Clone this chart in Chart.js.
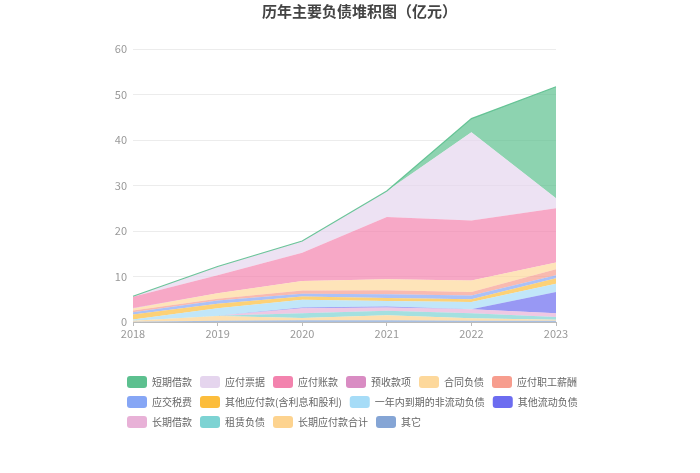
<!DOCTYPE html>
<html>
<head>
<meta charset="utf-8">
<title>历年主要负债堆积图</title>
<script src="https://cdn.jsdelivr.net/npm/chart.js@4.4.1/dist/chart.umd.min.js"></script>
<style>
  html, body { margin:0; padding:0; background:#fff; }
  #wrap { width:700px; height:473px; position:relative; }
</style>
</head>
<body>
<div id="wrap"><canvas id="debtChart"></canvas></div>
<script>
/* ── DATA (亿元) ── */
var years = ['2018','2019','2020','2021','2022','2023'];
var yTicks = [0, 10, 20, 30, 40, 50, 60];

var shortLoan    = [0,    0,   0,   0,    3.0,  24.5]; // 短期借款
var notesPay     = [0.1,  1.9, 2.6, 5.7,  19.4, 2.2];  // 应付票据
var accountsPay  = [2.5,  4.0, 6.2, 13.7, 13.2, 11.9]; // 应付账款
var advances     = [0.1,  0,   0,   0,    0,    0];    // 预收款项
var contractLiab = [0.4,  1.2, 2.1, 2.4,  2.5,  1.5];  // 合同负债
var payroll      = [0.4,  0.4, 0.7, 0.9,  0.8,  1.3];  // 应付职工薪酬
var taxes        = [0.5,  0.7, 0.6, 0.8,  0.8,  0.7];  // 应交税费
var otherPay     = [1.1,  1.0, 0.7, 0.7,  0.6,  1.2];  // 其他应付款
var currentNcl   = [0.3,  1.6, 1.7, 1.2,  1.6,  1.8];  // 一年内到期的非流动负债
var otherCurrent = [0,    0,   0.2, 0.2,  0,    4.7];  // 其他流动负债
var longLoan     = [0,    0,   1.1, 0.7,  0.9,  0.8];  // 长期借款
var lease        = [0,    0.1, 1.0, 1.0,  1.1,  0.6];  // 租赁负债
var longPay      = [0.2,  1.0, 0.5, 1.1,  0.5,  0.2];  // 长期应付款合计
var others       = [0.05, 0.3, 0.4, 0.4,  0.3,  0.3];  // 其它

// legend order (top of stack first)
var series = [
  { name:'短期借款',               data: shortLoan,    color:'#5cc08f' },
  { name:'应付票据',               data: notesPay,     color:'#e5d5ee' },
  { name:'应付账款',               data: accountsPay,  color:'#f383ae' },
  { name:'预收款项',               data: advances,     color:'#d98cc3' },
  { name:'合同负债',               data: contractLiab, color:'#fdd89b' },
  { name:'应付职工薪酬',           data: payroll,      color:'#f79d8e' },
  { name:'应交税费',               data: taxes,        color:'#86a6f5' },
  { name:'其他应付款(含利息和股利)', data: otherPay,   color:'#fcbd3c' },
  { name:'一年内到期的非流动负债', data: currentNcl,   color:'#a6dcf7' },
  { name:'其他流动负债',           data: otherCurrent, color:'#6c6cf0' },
  { name:'长期借款',               data: longLoan,     color:'#e8b1d7' },
  { name:'租赁负债',               data: lease,        color:'#7dd3d3' },
  { name:'长期应付款合计',         data: longPay,      color:'#fdd38f' },
  { name:'其它',                   data: others,       color:'#85a5d5' }
];

function withAlpha(hex, a){
  var n = parseInt(hex.slice(1), 16);
  return 'rgba(' + ((n >> 16) & 255) + ',' + ((n >> 8) & 255) + ',' + (n & 255) + ',' + a + ')';
}

/* ── datasets, bottom of stack first ── */
var stackOrder = series.slice().reverse();
var datasets = stackOrder.map(function(s, i){
  var isTop = (s.name === '短期借款');
  return {
    label: s.name,
    data: s.data,
    legendColor: s.color,
    backgroundColor: withAlpha(s.color, 0.7),
    borderColor: withAlpha(s.color, 0.9),
    borderWidth: isTop ? 1.2 : 0,
    fill: i === 0 ? 'origin' : '-1',
    pointRadius: 0,
    pointHoverRadius: 0,
    tension: 0
  };
});

var FONT = '"Noto Sans CJK SC", "Noto Sans", sans-serif';

// legend rows start a bit right of the y labels
var legendShift = {
  id: 'legendShift',
  afterLayout: function(chart){
    if(!chart.legend) return;
    chart.legend.left  += 10;
    chart.legend.right += 10;
  }
};

new Chart(document.getElementById('debtChart').getContext('2d'), {
  type: 'line',
  data: { labels: years, datasets: datasets },
  plugins: [legendShift],
  options: {
    responsive: true,
    maintainAspectRatio: false,
    animation: false,
    layout: { padding: { left: 109, right: 90, top: 0, bottom: 35 } },
    plugins: {
      filler: { drawTime: 'beforeDatasetsDraw' },
      tooltip: { enabled: false },
      title: {
        display: true,
        text: '历年主要负债堆积图（亿元）',
        color: '#444',
        font: { family: FONT, size: 15, weight: 'bold' },
        padding: { top: 2, bottom: 29 }
      },
      legend: {
        position: 'bottom',
        align: 'start',
        labels: {
          boxWidth: 20,
          boxHeight: 12,
          padding: 8,
          useBorderRadius: true,
          borderRadius: 3,
          color: '#666',
          font: { family: FONT, size: 10 },
          sort: function(a, b){ return b.datasetIndex - a.datasetIndex; },
          generateLabels: function(chart){
            var items = Chart.defaults.plugins.legend.labels.generateLabels(chart);
            items.forEach(function(it){
              it.fillStyle = chart.data.datasets[it.datasetIndex].legendColor;
              it.strokeStyle = 'rgba(0,0,0,0)';
              it.lineWidth = 0;
            });
            return items;
          }
        }
      }
    },
    scales: {
      x: {
        grid: { display: true, drawOnChartArea: false, drawTicks: true, tickLength: 4, color: '#bbb' },
        border: { color: '#bbb' },
        ticks: { color: '#999', font: { family: FONT, size: 11 }, padding: 1, maxRotation: 0 },
        afterFit: function(s){ s.height = 46; }
      },
      y: {
        stacked: true,
        min: 0,
        max: 60,
        afterBuildTicks: function(s){ s.ticks = yTicks.map(function(v){ return { value: v }; }); },
        grid: { color: '#ececec', drawTicks: false },
        border: { display: false },
        ticks: { color: '#999', font: { family: FONT, size: 11 }, padding: 6 },
        afterFit: function(s){ s.width = 24; }
      },
      // spacer on the right so the plot ends where the reference does
      yr: {
        type: 'linear',
        position: 'right',
        grid: { display: false },
        border: { display: false },
        ticks: { display: false },
        afterFit: function(s){ s.width = 54; }
      }
    }
  }
});
</script>
</body>
</html>
